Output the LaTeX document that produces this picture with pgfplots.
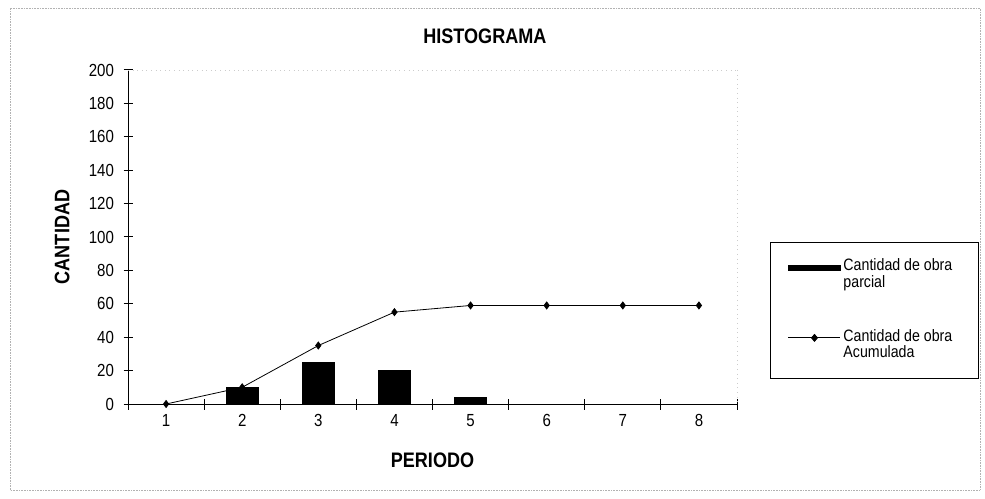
\documentclass[border=0pt]{standalone}
\usepackage{fontspec}
\setmainfont{Liberation Sans}[FakeStretch=0.86]
\usepackage{pgfplots}
\pgfplotsset{compat=1.18}
\begin{document}
\begin{tikzpicture}
\useasboundingbox (0,0) rectangle (985pt,498pt);
\draw[gray!60, densely dotted, line width=0.6pt] (10pt,8pt) rectangle (980pt,490pt);
\begin{axis}[
  at={(128pt,94pt)}, anchor=south west,
  scale only axis, width=609pt, height=334pt,
  xmin=0.5, xmax=8.5, ymin=0, ymax=200,
  axis x line*=bottom, axis y line*=left,
  axis line style={line width=1pt, black},
  /pgf/number format/assume math mode=true,
  ytick={0,20,...,200},
  xtick={1,...,8},
  minor xtick={0.5,1.5,...,8.5},
  major x tick style={draw=none},
  tick align=center,
  major tick length=9pt, minor tick length=11pt,
  every tick/.style={black, line width=1pt},
  tick label style={font=\fontsize{17.5}{20}\selectfont},
  yticklabel style={xshift=-6pt},
  xticklabel style={yshift=-2pt},
  title={\fontsize{21}{24}\selectfont\bfseries HISTOGRAMA},
  title style={at={(0.586,1.082)}, anchor=center},
  xlabel={\fontsize{21}{24}\selectfont\bfseries PERIODO},
  xlabel style={at={(0.5,-0.168)}, anchor=center},
  ylabel={\fontsize{21}{24}\selectfont\bfseries CANTIDAD},
  ylabel style={at={(-0.108,0.5)}, anchor=center},
  legend style={at={(1.054,0.485)}, anchor=north west, draw=black, line width=1.2pt,
    inner xsep=4pt, inner ysep=14pt, row sep=33pt, column sep=0pt,
    nodes={text depth=, inner sep=2pt},
    font=\fontsize{16.5}{16}\selectfont},
  legend cell align=left,
  clip=false,
]
\addplot[ybar, bar width=32pt, fill=black, draw=black,
  legend image code/.code={\path[draw=none, fill=none] (-14pt,-4pt) rectangle (53pt,4pt);
    \fill[black, overlay] (0pt,4.5pt) rectangle (52pt,9.5pt);}]
  coordinates {(1,0) (2,10) (3,25) (4,20) (5,4) (6,0) (7,0) (8,0)};
\addlegendentry{\begin{tabular}[t]{@{}l@{\hspace{20pt}}}Cantidad de obra\\parcial\end{tabular}}
\addplot[black, line width=0.8pt, mark=diamond*, mark size=3.5pt,
  mark options={solid, fill=black},
  legend image code/.code={\path[draw=none, fill=none] (-14pt,-4pt) rectangle (53pt,4pt);
    \draw[black, line width=0.8pt, overlay] (0pt,8pt) -- (52pt,8pt);
    \fill[black, overlay] (26pt,11.5pt) -- (29pt,8pt) -- (26pt,4.5pt) -- (23pt,8pt) -- cycle;}]
  coordinates {(1,0) (2,10) (3,35) (4,55) (5,59) (6,59) (7,59) (8,59)};
\addlegendentry{\begin{tabular}[t]{@{}l@{\hspace{20pt}}}Cantidad de obra\\Acumulada\end{tabular}}
\draw[gray!40, loosely dotted, line width=0.6pt] (rel axis cs:0,1) -- (rel axis cs:1,1);
\draw[gray!40, loosely dotted, line width=0.6pt] (rel axis cs:1,1) -- (rel axis cs:1,0);
\end{axis}
\end{tikzpicture}
\end{document}
